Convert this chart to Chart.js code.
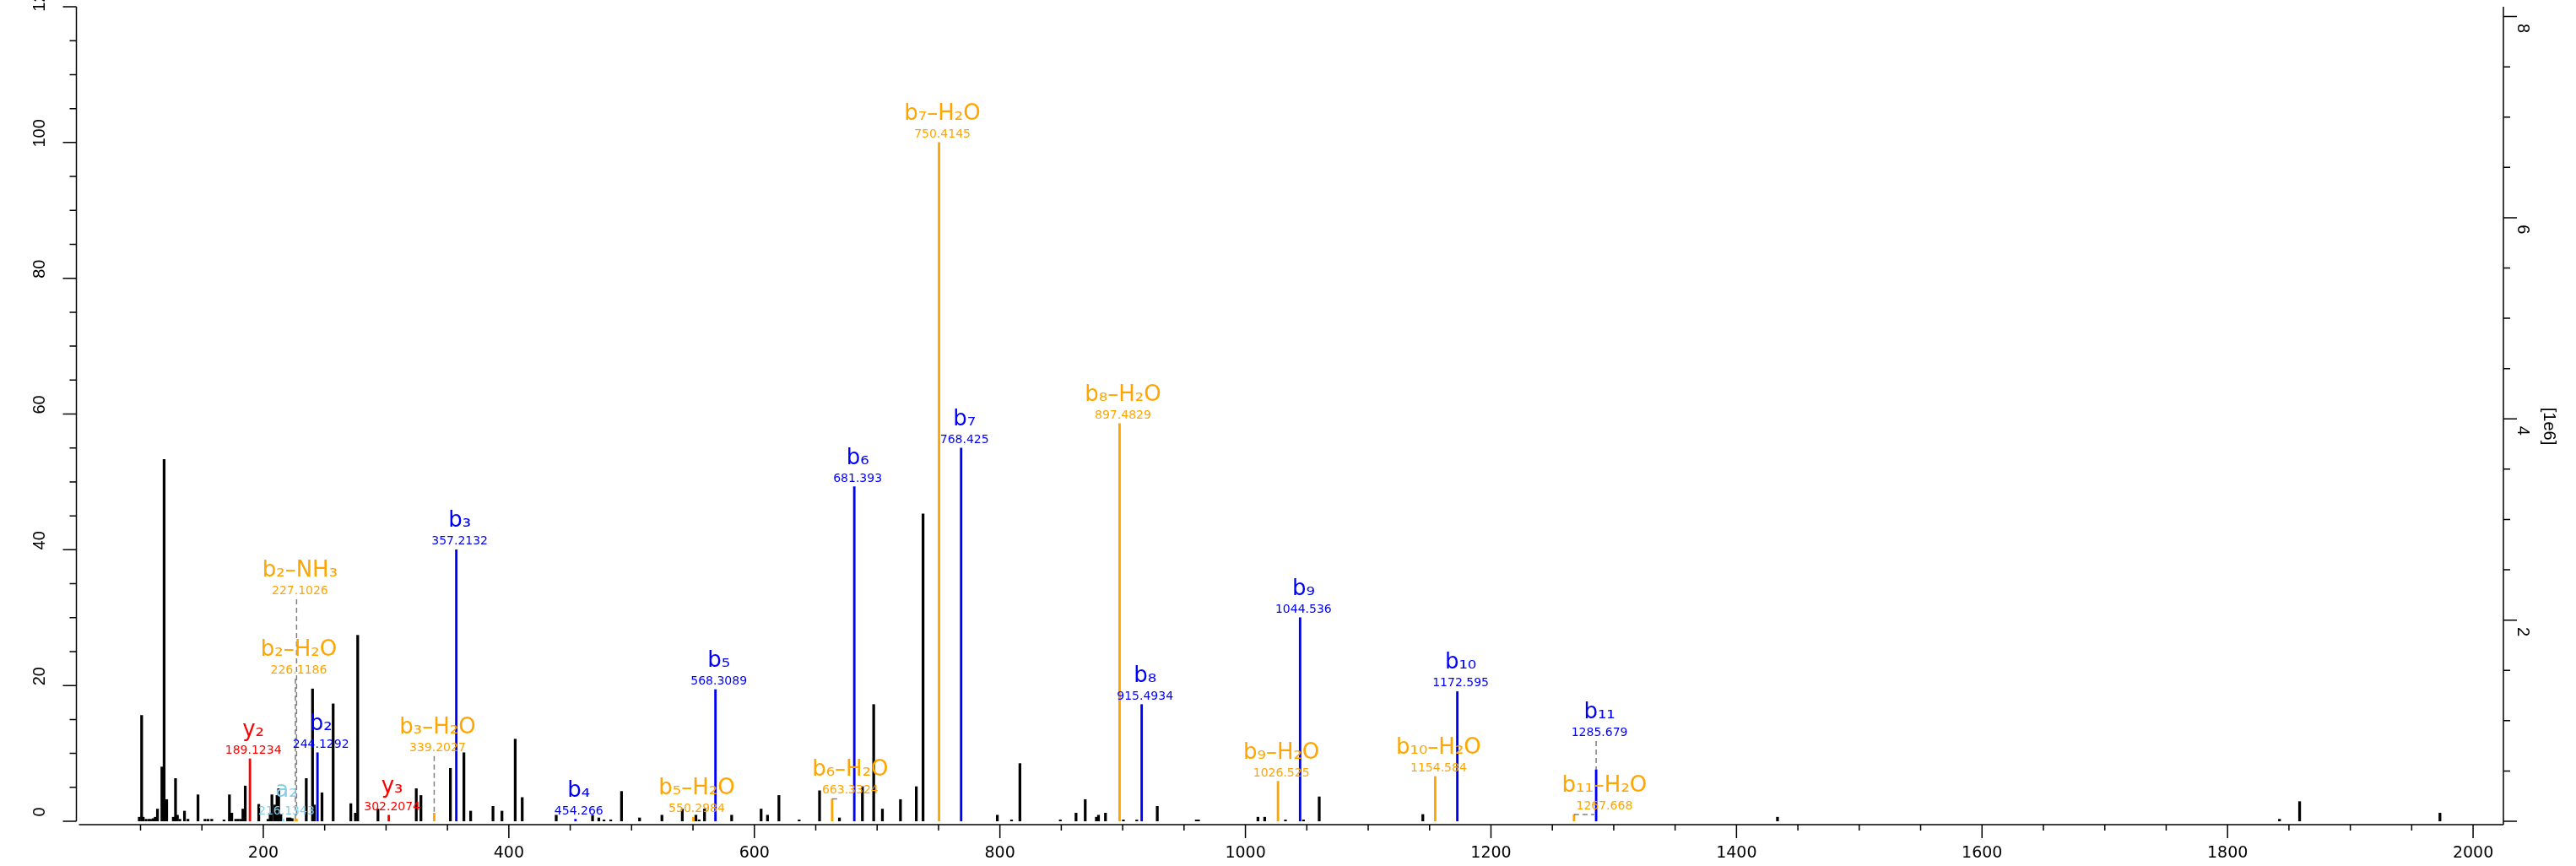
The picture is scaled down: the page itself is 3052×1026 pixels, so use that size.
<!DOCTYPE html>
<html>
<head>
<meta charset="utf-8">
<script src="https://cdn.jsdelivr.net/npm/chart.js@4.4.1/dist/chart.umd.min.js"></script>
<style>
  html, body { margin: 0; padding: 0; background: #fff; }
  canvas { display: block; }
</style>
</head>
<body>
<canvas id="spectrum" width="3052" height="1026"></canvas>
<script>
// unannotated peaks (m/z, relative intensity in %)
const peakMz = [
  99.0, 100.9, 102.2, 104.5, 106.8, 108.6, 110.3, 112.0, 113.8, 117.4,
  119.2, 121.3, 126.7, 128.5, 130.0, 132.0, 135.8, 138.6, 146.8, 152.5,
  155.0, 158.0, 168.0, 172.4, 174.3, 177.5, 179.5, 181.6, 183.4, 185.3,
  196.3, 203.8, 205.6, 207.0, 209.3, 211.2, 212.5, 214.3, 219.8, 221.8,
  223.5, 235.0, 240.1, 241.6, 247.8, 256.9, 271.3, 275.0, 276.9, 293.4,
  324.6, 328.4, 352.4, 363.4, 368.9, 387.1, 394.4, 405.2, 410.9, 438.6,
  468.2, 473.3, 477.5, 483.0, 491.8, 506.5, 524.7, 541.3, 552.4, 555.0,
  559.4, 581.5, 605.5, 610.7, 620.0, 636.5, 653.1, 669.3, 688.0, 697.2,
  704.3, 719.0, 731.9, 737.4, 797.9, 809.5, 816.3, 849.2, 862.0, 869.5,
  878.6, 880.3, 886.0, 900.6, 911.5, 928.2, 960.0, 961.8, 1010.2, 1015.7,
  1032.6, 1047.3, 1060.1, 1144.5, 1433.4, 1842.3, 1858.7, 1973.0
];
const peakInt = [
  0.6, 15.6, 0.6, 0.3, 0.3, 0.3, 0.4, 0.6, 1.8, 8.0,
  53.3, 3.2, 0.6, 6.3, 0.9, 0.3, 1.5, 0.3, 3.9, 0.3,
  0.3, 0.3, 0.2, 3.9, 1.2, 0.3, 0.3, 0.3, 1.8, 5.2,
  2.5, 0.3, 1.2, 3.9, 2.4, 3.8, 4.8, 1.0, 0.5, 0.5,
  0.4, 6.3, 19.5, 2.4, 4.2, 17.3, 2.6, 1.2, 27.4, 1.8,
  4.8, 3.8, 7.8, 10.1, 1.5, 2.2, 1.5, 12.1, 3.5, 0.9,
  0.9, 0.5, 0.2, 0.2, 4.4, 0.5, 0.9, 1.8, 0.9, 0.2,
  1.8, 0.9, 1.8, 0.9, 3.8, 0.2, 4.5, 0.5, 5.1, 17.2,
  1.8, 3.2, 5.1, 45.3, 0.9, 0.2, 8.5, 0.2, 1.2, 3.2,
  0.6, 0.9, 1.2, 0.2, 0.2, 2.2, 0.2, 0.2, 0.6, 0.6,
  0.2, 0.2, 3.6, 1.0, 0.6, 0.3, 2.9, 1.2
];

// annotated fragment ions
const ionLabels = [
  'y₂', 'a₂', 'b₂–H₂O', 'b₂–NH₃', 'b₂', 'y₃', 'b₃–H₂O', 'b₃', 'b₄', 'b₅–H₂O',
  'b₅', 'b₆–H₂O', 'b₆', 'b₇–H₂O', 'b₇', 'b₈–H₂O', 'b₈', 'b₉–H₂O', 'b₉', 'b₁₀–H₂O',
  'b₁₀', 'b₁₁–H₂O', 'b₁₁'
];
const ionMzText = [
  '189.1234', '216.1343', '226.1186', '227.1026', '244.1292', '302.2074', '339.2027', '357.2132', '454.266', '550.2984',
  '568.3089', '663.3324', '681.393', '750.4145', '768.425', '897.4829', '915.4934', '1026.525', '1044.536', '1154.584',
  '1172.595', '1267.668', '1285.679'
];
const ionMz = ionMzText.map(Number);
const ionType = [
  'y', 'a', 'b-H2O', 'b-NH3', 'b', 'y', 'b-H2O', 'b', 'b', 'b-H2O',
  'b', 'b-H2O', 'b', 'b-H2O', 'b', 'b-H2O', 'b', 'b-H2O', 'b', 'b-H2O',
  'b', 'b-H2O', 'b'
];
const ionInt = [
  9.2, 0.3, 0.3, 0.3, 10.1, 0.9, 1.2, 40.0, 0.3, 0.6,
  19.4, 3.3, 49.3, 100, 55.0, 58.6, 17.2, 5.9, 30.0, 6.6,
  19.1, 1.0, 7.6
];

// label placement: foot of the label (% units, null = sits on the peak),
// sideways shift (m/z) and length of the dashed hook (m/z)
const labelLevel = [
  null, null, 21.0, 32.7, null, null, 9.6, null, null, null,
  null, null, null, null, null, null, null, null, null, null,
  null, null, 11.8
];
const labelShift = [
  0, 0, 0, 0, 0, 0, 0, 0, 0, 0,
  0, 12, 0, 0, 0, 0, 0, 0, 0, 0,
  0, 22, 0
];
const hookLength = [
  0, 0, 0, 0, 0, 0, 0, 0, 0, 0,
  0, 5.2, 0, 0, 0, 0, 0, 0, 0, 0,
  0, 16.6, 0
];

// axis ticks
const xTickLabels = [200, 400, 600, 800, 1000, 1200, 1400, 1600, 1800, 2000];
const yTickLabels = [0, 20, 40, 60, 80, 100, 120];
const y2TickLabels = [2, 4, 6, 8];
const y2Unit = '[1e6]';

const ionColors = { 'b': '#0000ff', 'y': '#ff0000', 'a': '#87ceeb', 'b-H2O': '#ffa500', 'b-NH3': '#ffa500' };

// dashed leader lines, split with null points
const leaderPoints = [];
ionMz.forEach((mz, i) => {
  if (labelLevel[i] !== null) {
    leaderPoints.push({ x: mz, y: labelLevel[i] }, { x: mz, y: ionInt[i] }, { x: mz, y: null });
  }
  if (hookLength[i] > 0) {
    leaderPoints.push({ x: mz, y: ionInt[i] }, { x: mz + hookLength[i], y: ionInt[i] }, { x: mz, y: null });
  }
});

const axesPlugin = {
  id: 'axesPlugin',
  afterDatasetsDraw(chart) {
    const { ctx, chartArea: area, scales: { x, y, y2 } } = chart;
    const L = area.left + 0.5;
    const R = area.right;
    const axisY = y.getPixelForValue(0) + 4;
    ctx.save();
    ctx.strokeStyle = '#000';
    ctx.fillStyle = '#000';
    ctx.lineWidth = 1.5;

    // left axis
    ctx.beginPath();
    ctx.moveTo(L, y.getPixelForValue(120));
    ctx.lineTo(L, y.getPixelForValue(0));
    for (let v = 0; v <= 120; v += 5) {
      const py = y.getPixelForValue(v);
      ctx.moveTo(L - (v % 20 === 0 ? 16 : 8), py);
      ctx.lineTo(L, py);
    }
    // right axis
    ctx.moveTo(R, y2.getPixelForValue(y2.max));
    ctx.lineTo(R, axisY);
    for (let v = 0; v <= 8; v += 0.5) {
      const py = y2.getPixelForValue(v);
      ctx.moveTo(R, py);
      ctx.lineTo(R + (v % 2 === 0 ? 16 : 8), py);
    }
    // bottom axis
    ctx.moveTo(L + 3, axisY);
    ctx.lineTo(R, axisY);
    for (let m = 100; m <= 2000; m += 50) {
      const px = x.getPixelForValue(m);
      ctx.moveTo(px, axisY);
      ctx.lineTo(px, axisY + (m % 200 === 0 ? 16 : 7));
    }
    ctx.stroke();

    ctx.textAlign = 'center';
    ctx.textBaseline = 'middle';
    ctx.font = '20px "Liberation Sans", Arial, sans-serif';
    yTickLabels.forEach(v => {
      ctx.save();
      ctx.translate(47, y.getPixelForValue(v) - 11);
      ctx.rotate(-Math.PI / 2);
      ctx.fillText(String(v), 0, 0);
      ctx.restore();
    });
    y2TickLabels.forEach(v => {
      ctx.save();
      ctx.translate(R + 23, y2.getPixelForValue(v) + 14);
      ctx.rotate(Math.PI / 2);
      ctx.fillText(String(v), 0, 0);
      ctx.restore();
    });
    ctx.save();
    ctx.translate(R + 54, 505);
    ctx.rotate(Math.PI / 2);
    ctx.fillText(y2Unit, 0, 0);
    ctx.restore();

    ctx.font = '19px "DejaVu Sans", sans-serif';
    xTickLabels.forEach(m => {
      ctx.fillText(String(m), x.getPixelForValue(m), axisY + 34);
    });
    ctx.restore();
  }
};

const ionLabelPlugin = {
  id: 'ionLabelPlugin',
  afterDatasetsDraw(chart) {
    const { ctx, scales: { x, y } } = chart;
    ctx.save();
    ctx.textAlign = 'center';
    ctx.textBaseline = 'alphabetic';
    ionMz.forEach((mz, i) => {
      const level = labelLevel[i] === null ? ionInt[i] : labelLevel[i];
      const px = x.getPixelForValue(mz + labelShift[i]) + 4;
      const py = y.getPixelForValue(level);
      ctx.fillStyle = ionColors[ionType[i]];
      ctx.font = '14px "DejaVu Sans", sans-serif';
      ctx.fillText(ionMzText[i], px, py - 6);
      ctx.font = '26px "DejaVu Sans", sans-serif';
      ctx.fillText(ionLabels[i], px, py - 27);
    });
    ctx.restore();
  }
};

new Chart(document.getElementById('spectrum'), {
  type: 'bar',
  data: {
    datasets: [
      {
        type: 'line',
        data: leaderPoints,
        borderColor: '#808080',
        borderWidth: 1.5,
        borderDash: [6, 4],
        pointRadius: 0,
        spanGaps: false,
        fill: false
      },
      {
        data: ionMz.map((mz, i) => ({ x: mz, y: ionInt[i] })),
        backgroundColor: ctx => ionColors[ionType[ctx.dataIndex]],
        barThickness: 2.2,
        grouped: false
      },
      {
        data: peakMz.map((mz, i) => ({ x: mz, y: peakInt[i] })),
        backgroundColor: '#000',
        barThickness: 2.6,
        grouped: false
      }
    ]
  },
  options: {
    responsive: false,
    devicePixelRatio: 1,
    animation: false,
    layout: { padding: { left: 90, right: 86, top: 8, bottom: 53 } },
    plugins: { legend: { display: false }, tooltip: { enabled: false } },
    scales: {
      x: { type: 'linear', min: 47.4, max: 2024.7, offset: false, display: false },
      y: { min: 0, max: 120, display: false },
      y2: { position: 'right', min: 0, max: 8.097, display: false }
    }
  },
  plugins: [axesPlugin, ionLabelPlugin]
});
</script>
</body>
</html>
